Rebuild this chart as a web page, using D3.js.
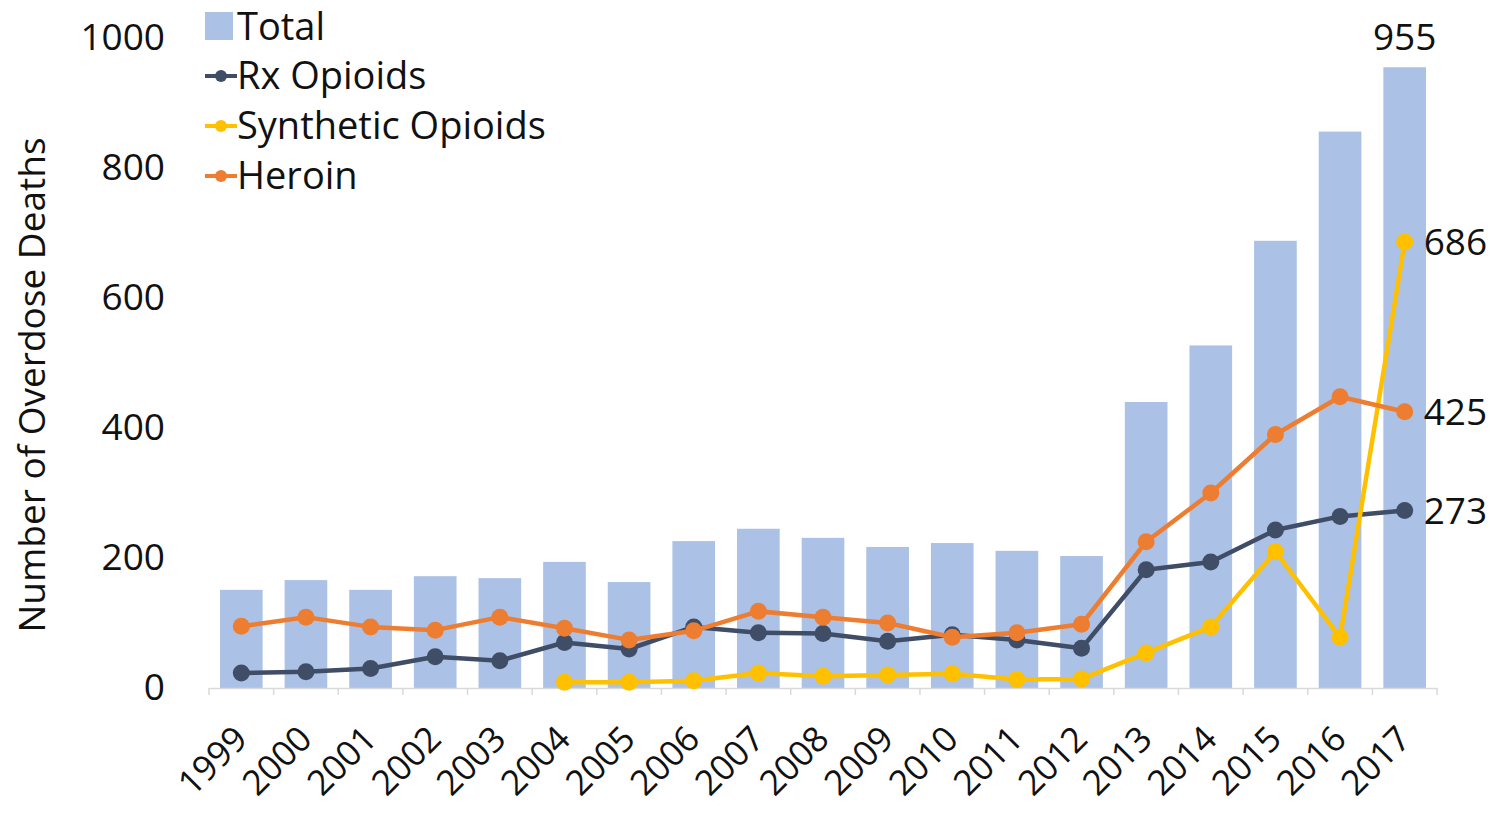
<!DOCTYPE html>
<html>
<head>
<meta charset="utf-8">
<script src="https://cdn.jsdelivr.net/npm/d3@7"></script>
<style>
  body { margin: 0; background: white; }
  text { font-family: "Open Sans", sans-serif; fill: #111; }
</style>
</head>
<body>
<div id="container"></div>
<script>
let years = ["1999","2000","2001","2002","2003","2004","2005","2006","2007","2008","2009","2010","2011","2012","2013","2014","2015","2016","2017"];
let total = [151,166,151,172,169,194,163,226,245,231,217,223,211,203,440,527,688,856,955];
let rxOpioids = [23,25,30,48,42,70,60,94,85,84,72,82,74,61,182,194,243,264,273];
let synthetic = [null,null,null,null,null,9,9,11,23,18,20,22,13,14,54,94,210,78,686];
let heroin = [95,109,94,89,109,92,74,88,118,109,100,78,85,98,225,300,390,448,425];
let yTicks = [0,200,400,600,800,1000];

let w = 1502;
let h = 822;
let margin = {top: 38, right: 65, bottom: 134, left: 209};

let viz = d3.select("#container").append("svg")
    .attr("width", w)
    .attr("height", h)
    .style("background-color", "white")
;

let x = d3.scaleBand()
  .domain(years)
  .range([margin.left, w - margin.right])
  .paddingInner(0.34)
  .paddingOuter(0.17);
let y = d3.scaleLinear()
  .domain([0, 1000])
  .range([h - margin.bottom, margin.top]);
let cx = d => x(d) + x.bandwidth() / 2;

// bars
viz.selectAll(".bar").data(years).enter()
  .append("rect")
    .attr("class", "bar")
    .attr("x", d => x(d))
    .attr("width", x.bandwidth())
    .attr("y", (d, i) => y(total[i]))
    .attr("height", (d, i) => y(0) - y(total[i]))
    .attr("fill", "#abc1e5")
;

// x axis: line + ticks at category boundaries
let xAxis = d3.axisBottom(x).tickSize(0).tickFormat(d => d);
let xg = viz.append("g")
  .attr("transform", "translate(0," + y(0) + ")")
  .call(xAxis);
xg.select(".domain").attr("stroke", "#d9d9d9").attr("stroke-width", 1.5);
xg.selectAll(".tick text")
  .attr("font-size", 35)
  .attr("font-family", "Open Sans")
  .attr("fill", "#111")
  .attr("text-anchor", "end")
  .attr("transform", "translate(" + 8 + ",53) rotate(-45)")
  .attr("dy", 0)
  .attr("y", 0);
let step = x.step();
viz.selectAll(".xtick").data(d3.range(years.length + 1)).enter()
  .append("line")
    .attr("x1", i => x.range()[0] + i * step)
    .attr("x2", i => x.range()[0] + i * step)
    .attr("y1", y(0))
    .attr("y2", y(0) + 7)
    .attr("stroke", "#d9d9d9")
    .attr("stroke-width", 1.5)
;

// y axis labels only
let yAxis = d3.axisLeft(y).tickValues(yTicks).tickSize(0).tickPadding(0).tickFormat(d3.format("d"));
let yg = viz.append("g")
  .attr("transform", "translate(" + 165 + ",0)")
  .call(yAxis);
yg.select(".domain").remove();
yg.selectAll(".tick text")
  .attr("font-size", 37)
  .attr("font-family", "Open Sans")
  .attr("fill", "#111");

viz.append("text")
  .attr("transform", "translate(45," + 385 + ") rotate(-90)")
  .attr("text-anchor", "middle")
  .attr("font-size", 37)
  .text("Number of Overdose Deaths");

// lines
let series = [
  {name: "Rx Opioids", values: rxOpioids, color: "#3f4d66"},
  {name: "Synthetic Opioids", values: synthetic, color: "#ffc000"},
  {name: "Heroin", values: heroin, color: "#ed7d31"}
];
let lineMaker = d3.line()
  .defined(d => d.v != null)
  .x(d => cx(d.year))
  .y(d => y(d.v));

series.forEach(function(s){
  let pts = years.map((yr, i) => ({year: yr, v: s.values[i]}));
  viz.append("path")
    .datum(pts)
    .attr("d", lineMaker)
    .attr("fill", "none")
    .attr("stroke", s.color)
    .attr("stroke-width", 4.5)
    .attr("stroke-linejoin", "round");
  viz.selectAll(null).data(pts.filter(d => d.v != null)).enter()
    .append("circle")
      .attr("cx", d => cx(d.year))
      .attr("cy", d => y(d.v))
      .attr("r", 8.5)
      .attr("fill", s.color);
});

// end labels
let last = years[years.length - 1];
viz.append("text")
  .attr("x", cx(last))
  .attr("y", y(total[total.length - 1]) - 17)
  .attr("text-anchor", "middle")
  .attr("font-size", 37)
  .text(total[total.length - 1]);
series.forEach(function(s){
  let v = s.values[s.values.length - 1];
  viz.append("text")
    .attr("x", cx(last) + 19)
    .attr("y", y(v))
    .attr("dy", "0.35em")
    .attr("font-size", 37)
    .text(v);
});

// legend
let legend = viz.append("g").attr("transform", "translate(205,0)");
legend.append("rect")
  .attr("x", 0).attr("y", 12)
  .attr("width", 28).attr("height", 28)
  .attr("fill", "#abc1e5");
legend.append("text")
  .attr("x", 32).attr("y", 27).attr("dy", "0.35em")
  .attr("font-size", 38)
  .text("Total");
series.forEach(function(s, i){
  let ly = 76 + i * 50;
  legend.append("line")
    .attr("x1", 0).attr("x2", 32)
    .attr("y1", ly).attr("y2", ly)
    .attr("stroke", s.color).attr("stroke-width", 4);
  legend.append("circle")
    .attr("cx", 16).attr("cy", ly).attr("r", 6)
    .attr("fill", s.color);
  legend.append("text")
    .attr("x", 32).attr("y", ly).attr("dy", "0.35em")
    .attr("font-size", 38)
    .text(s.name);
});
</script>
</body>
</html>
